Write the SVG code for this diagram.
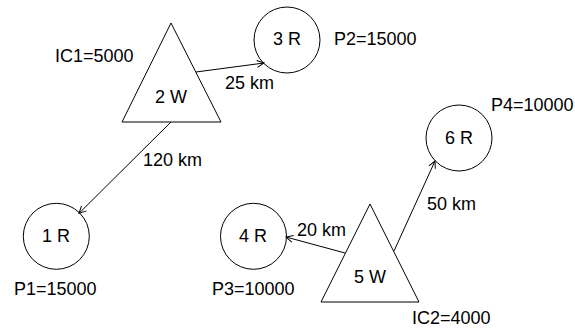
<svg xmlns="http://www.w3.org/2000/svg" width="575" height="332" viewBox="0 0 575 332">
<style>
.s{fill:#fff;stroke:#000;stroke-width:1}
.t{font-family:"Liberation Sans",Arial,sans-serif;font-size:18px;fill:#000}
.m{text-anchor:middle}
.c{fill:none;stroke:#000;stroke-width:1}
</style>
<defs>
<marker id="a" markerUnits="userSpaceOnUse" markerWidth="12" markerHeight="12" viewBox="-8 -6 10 12" refX="0" refY="0" orient="auto" overflow="visible">
<path d="M-7,-3.5 L0,0 L-7,3.5" fill="none" stroke="#000" stroke-width="1"/>
</marker>
</defs>
<rect width="575" height="332" fill="#fff"/>
<g id="n2W"><polygon class="s" points="171,23 221,122 122,122"/><text class="t m" x="171" y="103">2 W</text></g>
<g id="n3R"><circle class="s" cx="287" cy="40" r="33"/><text class="t m" x="287" y="45">3 R</text></g>
<g id="n6R"><circle class="s" cx="459" cy="138" r="33"/><text class="t m" x="459" y="144">6 R</text></g>
<g id="n1R"><circle class="s" cx="56.3" cy="236.3" r="33"/><text class="t m" x="56" y="242">1 R</text></g>
<g id="n4R"><circle class="s" cx="253.5" cy="236.3" r="33"/><text class="t m" x="253" y="242">4 R</text></g>
<g id="n5W"><polygon class="s" points="370,204 419,302 321,302"/><text class="t m" x="370" y="283">5 W</text></g>
<g id="connectors">
<line class="c" x1="196" y1="72" x2="264" y2="63" marker-end="url(#a)"/>
<line class="c" x1="171" y1="122" x2="79" y2="213.3" marker-end="url(#a)"/>
<line class="c" x1="345" y1="253" x2="286" y2="237" marker-end="url(#a)"/>
<line class="c" x1="394" y1="251" x2="435" y2="161" marker-end="url(#a)"/>
</g>
<g id="labels">
<text class="t" x="55" y="62">IC1=5000</text>
<text class="t" x="225" y="89">25 km</text>
<text class="t" x="143" y="166">120 km</text>
<text class="t" x="334" y="45">P2=15000</text>
<text class="t" x="491" y="111">P4=10000</text>
<text class="t" x="14" y="295">P1=15000</text>
<text class="t" x="212" y="295">P3=10000</text>
<text class="t" x="297" y="236">20 km</text>
<text class="t" x="427" y="210">50 km</text>
<text class="t" x="412" y="324">IC2=4000</text>
</g>
</svg>
